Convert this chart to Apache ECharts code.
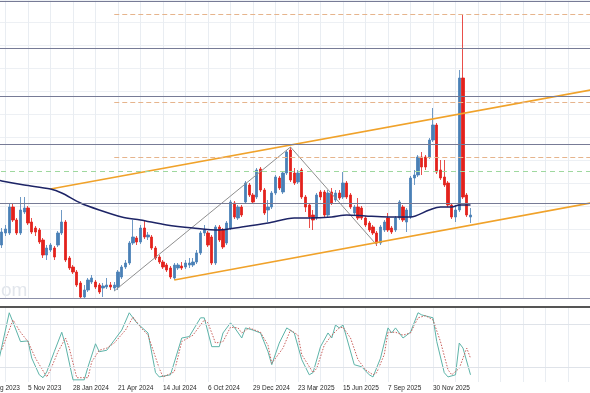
<!DOCTYPE html>
<html><head><meta charset="utf-8">
<script src="https://cdn.jsdelivr.net/npm/echarts@6/dist/echarts.min.js"></script>
<style>html,body{margin:0;padding:0;background:#fff}#c{width:590px;height:393px}</style>
</head><body><div id="c"></div>
<script>
// ---- categories: weekly bars ----
const firstWeek = '2023-08-13';
const weekCount = 163;
const candleStartDate = '2023-09-17';

// ---- weekly OHLC (price units), from 17 Sep 2023 ----
const openVals = [53,65,65,91,78,65,86,90,76,70,68,58,43,48,50,53,65,76,40,31,26,15,1,8,16,16,13,10,11,13,10,11,21,31,35,55,60,56,70,61,61,50,41,36,33,30,20,30,32,31,33,33,36,45,65,65,61,35,71,68,55,70,95,80,91,96,113,103,101,129,108,88,91,105,120,106,125,148,125,116,128,101,93,83,80,106,106,83,106,98,105,101,115,103,85,91,90,80,75,71,65,55,68,80,70,68,80,91,76,81,120,123,141,141,141,158,173,128,121,115,93,81,88,220,103,81];
const closeVals = [66,69,91,78,65,88,90,75,66,66,56,43,50,53,41,65,76,38,30,26,13,1,8,18,20,11,6,12,13,11,13,26,31,35,55,61,56,70,61,63,50,40,36,31,28,21,33,33,30,35,35,36,45,65,68,53,35,71,58,51,75,96,81,91,83,115,103,96,128,108,85,91,105,121,110,125,146,118,115,125,101,91,81,78,103,101,83,105,95,105,100,115,101,91,91,80,80,73,68,65,55,71,76,68,66,80,96,78,88,120,123,141,131,131,158,173,126,120,113,93,81,88,220,101,83,83];
const lowVals = [50,62,63,76,63,63,84,73,64,62,54,40,38,46,38,51,63,36,28,24,11,0,0,6,14,9,4,1,9,8,7,8,19,29,33,53,53,54,59,58,48,38,34,29,26,19,18,28,28,29,30,31,34,43,62,51,33,33,56,49,53,68,79,78,81,94,101,94,99,106,83,76,89,103,108,104,123,116,113,114,99,86,70,68,78,98,81,81,93,96,98,99,99,89,83,78,78,71,66,63,52,53,66,66,64,66,78,76,66,79,113,121,123,128,139,156,124,118,111,91,79,76,86,99,81,75];
const highVals = [70,73,94,94,80,101,101,92,80,72,70,60,53,55,52,67,88,78,42,33,28,17,13,20,23,18,15,15,20,16,16,28,33,38,57,78,62,73,78,66,63,52,43,38,35,32,35,35,36,38,40,40,48,67,73,67,63,73,73,70,77,98,97,93,93,117,115,105,130,131,110,98,107,123,122,127,148,151,130,128,130,103,95,88,105,108,108,108,110,108,108,126,117,105,93,100,92,82,77,73,67,73,78,85,72,82,98,93,90,122,128,143,146,143,160,190,175,138,138,117,95,93,228,283,105,90];

// ---- moving average (week number, value) ----
const maWeek  = [4,5,11,18,21,26,31,37,42,49,56,63,69,76,83,87,93,97,102,108,114,119,122,125,127,130];
const maValue = [118,117,113,109,105,95,88,81,78,73,70,68,71,75,80,80,81,83,82,81,81,88,91,91,93,93];

// ---- stochastic %K and %D (week number, value) ----
const kWeek  = [4,7,8,10,12,13,15,16,17,19,21,22,24,27,28,30,31,33,35,37,39,41,44,46,47,50,53,55,58,59,61,63,64,66,67,69,70,72,74,76,77,79,81,83,85,87,88,90,92,93,94,95,96,97,99,101,103,104,106,108,109,110,112,114,116,117,120,121,123,124,126,127,128,130];
const kValue = [25,96,83,56,57,33,10,6,14,42,69,51,3,3,21,53,42,44,58,72,96,82,68,13,7,10,61,63,89,89,49,49,68,82,76,61,75,72,68,42,24,54,75,68,31,10,13,49,68,61,79,75,79,61,24,21,10,7,33,75,68,75,61,69,96,93,89,56,13,7,10,54,47,10];
const dWeek  = [5,8,10,12,14,17,18,20,22,23,25,28,29,31,33,35,38,40,42,44,47,48,51,53,56,59,60,62,64,66,68,69,71,74,76,77,80,82,84,85,88,89,91,93,95,96,98,100,102,104,105,107,108,110,112,114,116,118,120,122,124,125,127,129,130];
const dValue = [45,86,69,56,33,7,17,42,61,47,6,6,28,44,47,54,72,90,76,65,19,7,14,56,65,86,82,54,56,76,75,68,75,69,51,26,47,72,65,38,13,19,51,65,75,76,61,31,17,10,13,38,69,69,65,68,89,92,86,56,17,10,19,47,33];
const stochLevels = [80, 20];

// ---- drawn levels / lines (price units) ----
const solidLevels = [297, 250, 202, 154, 95];
const fibLevels = [284, 196, 141];
const fibStartWeek = 35;
const greenLevel = 127;
const upperChannel = [[18, 109], [162, 208]];
const lowerChannel = [[51, 18], [162, 95]];
const swingLine = [[35, 7], [82, 151], [105, 53]];

// ---- build ----
const MON = ['Jan','Feb','Mar','Apr','May','Jun','Jul','Aug','Sep','Oct','Nov','Dec'];
const dates = [];
const t0 = Date.parse(firstWeek + 'T00:00:00Z');
for (let k = 0; k < weekCount; k++) {
  const d = new Date(t0 + k * 7 * 86400000);
  dates.push(d.toISOString().slice(0, 10));
}
const startIdx = dates.indexOf(candleStartDate);
const lastCandleIdx = startIdx + openVals.length - 1;
const candles = dates.map(() => ['-', '-', '-', '-']);
for (let j = 0; j < openVals.length; j++) {
  candles[startIdx + j] = [openVals[j], closeVals[j], lowVals[j], highVals[j]];
}
const fmt = (s) => { const p = s.split('-'); return (+p[2]) + ' ' + MON[+p[1] - 1] + ' ' + p[0]; };
const pairs = (xs, ys) => xs.map((x, i) => [x, ys[i]]);

const lastIdx = weekCount - 1;
const chart = echarts.init(document.getElementById('c'), null, { renderer: 'canvas' });
const gridLine = { show: true, interval: (i) => i % 6 === 0, lineStyle: { color: '#e9edf2', width: 1 } };
const noLbl = { show: false };

chart.setOption({
  animation: false,
  backgroundColor: '#ffffff',
  grid: [
    { left: -17, right: -0.5, top: 0, height: 298, outerBoundsMode: 'none', containLabel: false },
    { left: -17, right: -0.5, top: 307, height: 75, outerBoundsMode: 'none', containLabel: false }
  ],
  xAxis: [
    { type: 'category', gridIndex: 0, data: dates, boundaryGap: false,
      axisLabel: noLbl, axisTick: noLbl,
      axisLine: { show: true, lineStyle: { color: '#8c90a8', width: 1.2 } },
      splitLine: gridLine },
    { type: 'category', gridIndex: 1, data: dates, boundaryGap: false,
      axisTick: noLbl, axisLine: noLbl, splitLine: gridLine,
      axisLabel: { show: true, interval: (i) => i % 12 === 0 && i <= lastCandleIdx, formatter: fmt,
        align: 'left', fontSize: 6.5, fontFamily: 'Liberation Sans', color: '#2a2a2a', margin: 3,
        hideOverlap: false } },
    { type: 'category', gridIndex: 1, data: dates, boundaryGap: false, position: 'top',
      axisLabel: noLbl, axisTick: noLbl, splitLine: noLbl,
      axisLine: { show: true, lineStyle: { color: '#555555', width: 2 } } }
  ],
  yAxis: [
    { type: 'value', gridIndex: 0, min: 0, max: 298, interval: 23, axisLabel: noLbl,
      axisLine: noLbl, axisTick: noLbl, splitLine: { show: true, lineStyle: { color: '#edf0f4' } } },
    { type: 'value', gridIndex: 1, min: 0, max: 104, axisLabel: noLbl,
      axisLine: noLbl, axisTick: noLbl, splitLine: noLbl }
  ],
  graphic: [
    { type: 'text', left: 1, top: 281, silent: true,
      style: { text: 'om', fontSize: 19, fontFamily: 'Liberation Sans', fill: '#e2e6ec' } }
  ],
  series: [
    { type: 'line', xAxisIndex: 0, yAxisIndex: 0, data: [], silent: true,
      markLine: { symbol: ['none', 'none'], silent: true, label: { show: false },
        lineStyle: { color: '#777b96', width: 1.2, type: 'solid' },
        data: solidLevels.map(v => ({ yAxis: v })) } },
    { type: 'line', xAxisIndex: 0, yAxisIndex: 0, data: [], silent: true,
      markLine: { symbol: ['none', 'none'], silent: true, label: { show: false },
        lineStyle: { color: '#9fd89f', width: 1, type: [5, 4] },
        data: [{ yAxis: greenLevel }] } },
    { type: 'line', xAxisIndex: 0, yAxisIndex: 0, data: [], silent: true,
      markLine: { symbol: ['none', 'none'], silent: true, label: { show: false },
        lineStyle: { color: '#e6b48c', width: 1, type: [5, 3] },
        data: fibLevels.map(v => [{ coord: [fibStartWeek, v] }, { coord: [lastIdx, v] }]) } },
    { type: 'line', xAxisIndex: 0, yAxisIndex: 0, data: swingLine, symbol: 'none', silent: true,
      lineStyle: { color: '#8f8f8f', width: 1 } },
    { type: 'line', xAxisIndex: 0, yAxisIndex: 0, data: upperChannel, symbol: 'none', silent: true,
      lineStyle: { color: '#f0a22a', width: 1.6 } },
    { type: 'line', xAxisIndex: 0, yAxisIndex: 0, data: lowerChannel, symbol: 'none', silent: true,
      lineStyle: { color: '#f0a22a', width: 1.6 } },
    { type: 'candlestick', xAxisIndex: 0, yAxisIndex: 0, data: candles, barWidth: 2.8,
      itemStyle: { color: '#4a80b6', color0: '#e3221c', borderColor: '#4a80b6', borderColor0: '#e3221c', borderWidth: 0.8 } },
    { type: 'line', xAxisIndex: 0, yAxisIndex: 0, data: pairs(maWeek, maValue), symbol: 'none',
      smooth: 0.3, silent: true, lineStyle: { color: '#1d2466', width: 1.5 } },
    { type: 'line', xAxisIndex: 1, yAxisIndex: 1, data: pairs(kWeek, kValue), symbol: 'none', silent: true,
      lineStyle: { color: '#5db3a8', width: 1 },
      markLine: { symbol: ['none', 'none'], silent: true, label: { show: false },
        lineStyle: { color: '#dfe3e9', width: 1, type: 'solid' },
        data: stochLevels.map(v => ({ yAxis: v })) } },
    { type: 'line', xAxisIndex: 1, yAxisIndex: 1, data: pairs(dWeek, dValue), symbol: 'none', silent: true,
      lineStyle: { color: '#c9605c', width: 1, type: [1.5, 1.5] } }
  ]
});
</script>
</body></html>
